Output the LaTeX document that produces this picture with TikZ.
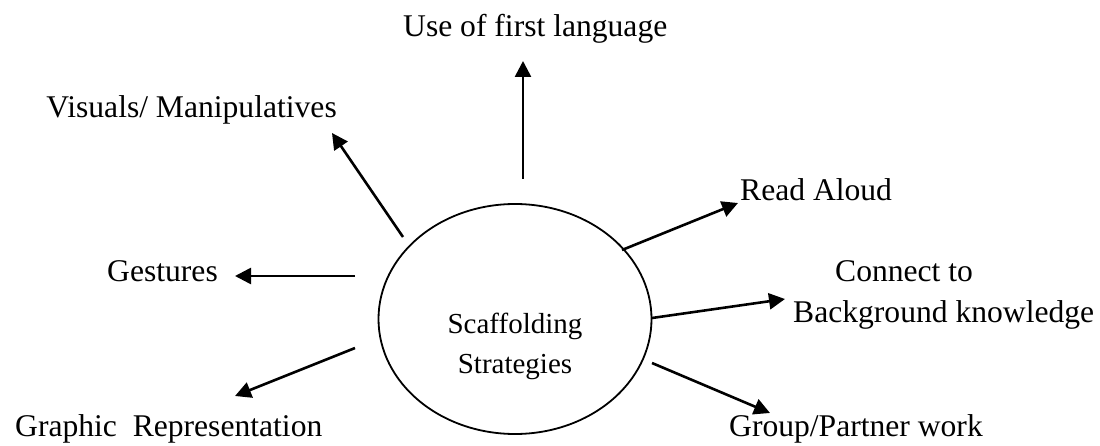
\documentclass[tikz,border=0pt]{standalone}
\usepackage{fontspec}
\setmainfont{Liberation Serif}
\usetikzlibrary{arrows.meta,shapes.geometric}
\begin{document}
\begin{tikzpicture}[x=1pt,y=-1pt,
  lbl/.style={font=\fontsize{31.6}{38}\selectfont, inner sep=0pt},
  core/.style={font=\fontsize{29}{35}\selectfont, inner sep=0pt, anchor=base},
  link/.style={line width=2.6pt, -{Triangle[length=16pt,width=16pt]}},
]
\useasboundingbox (0,0) rectangle (1100,446);

% central ellipse
\node[draw, ellipse, line width=1.8pt, minimum width=273pt, minimum height=230pt, inner sep=0pt] (hub) at (515,319) {};
\node[core] (hubA) at (515,334) {Scaffolding};
\node[core] (hubB) at (515,373) {Strategies};

% strategy labels
\node[lbl, anchor=base west] (first) at (403,37) {Use of first language};
\node[lbl, anchor=base east] (visual) at (337,118) {Visuals/ Manipulatives};
\node[lbl, anchor=base west] (read) at (740,201) {Read Aloud};
\node[lbl, anchor=base west] (conn) at (835,282) {Connect to};
\node[lbl, anchor=base west] (bg) at (793,322) {Background knowledge};
\node[lbl, anchor=base east] (gest) at (218,282) {Gestures};
\node[lbl, anchor=base west] (graph) at (15,436) {Graphic\ \ Representation};
\node[lbl, anchor=base east] (group) at (983,436) {Group/Partner work};

% arrow end points
\coordinate (sFirst) at (523,179);  \coordinate (tFirst) at (523,61);
\coordinate (sVis)   at (403,237);  \coordinate (tVis)   at (332,133);
\coordinate (sRead)  at (622,250);  \coordinate (tRead)  at (738,203);
\coordinate (sBg)    at (652,318);  \coordinate (tBg)    at (785,299);
\coordinate (sGrp)   at (652,363);  \coordinate (tGrp)   at (770,413);
\coordinate (sGest)  at (355,276);  \coordinate (tGest)  at (235,276);
\coordinate (sGra)   at (355,348);  \coordinate (tGra)   at (235,396);

% arrows
\draw[link] (sFirst) -- (tFirst);
\draw[link] (sVis) -- (tVis);
\draw[link] (sRead) -- (tRead);
\draw[link] (sBg) -- (tBg);
\draw[link] (sGrp) -- (tGrp);
\draw[link] (sGest) -- (tGest);
\draw[link] (sGra) -- (tGra);
\end{tikzpicture}
\end{document}
